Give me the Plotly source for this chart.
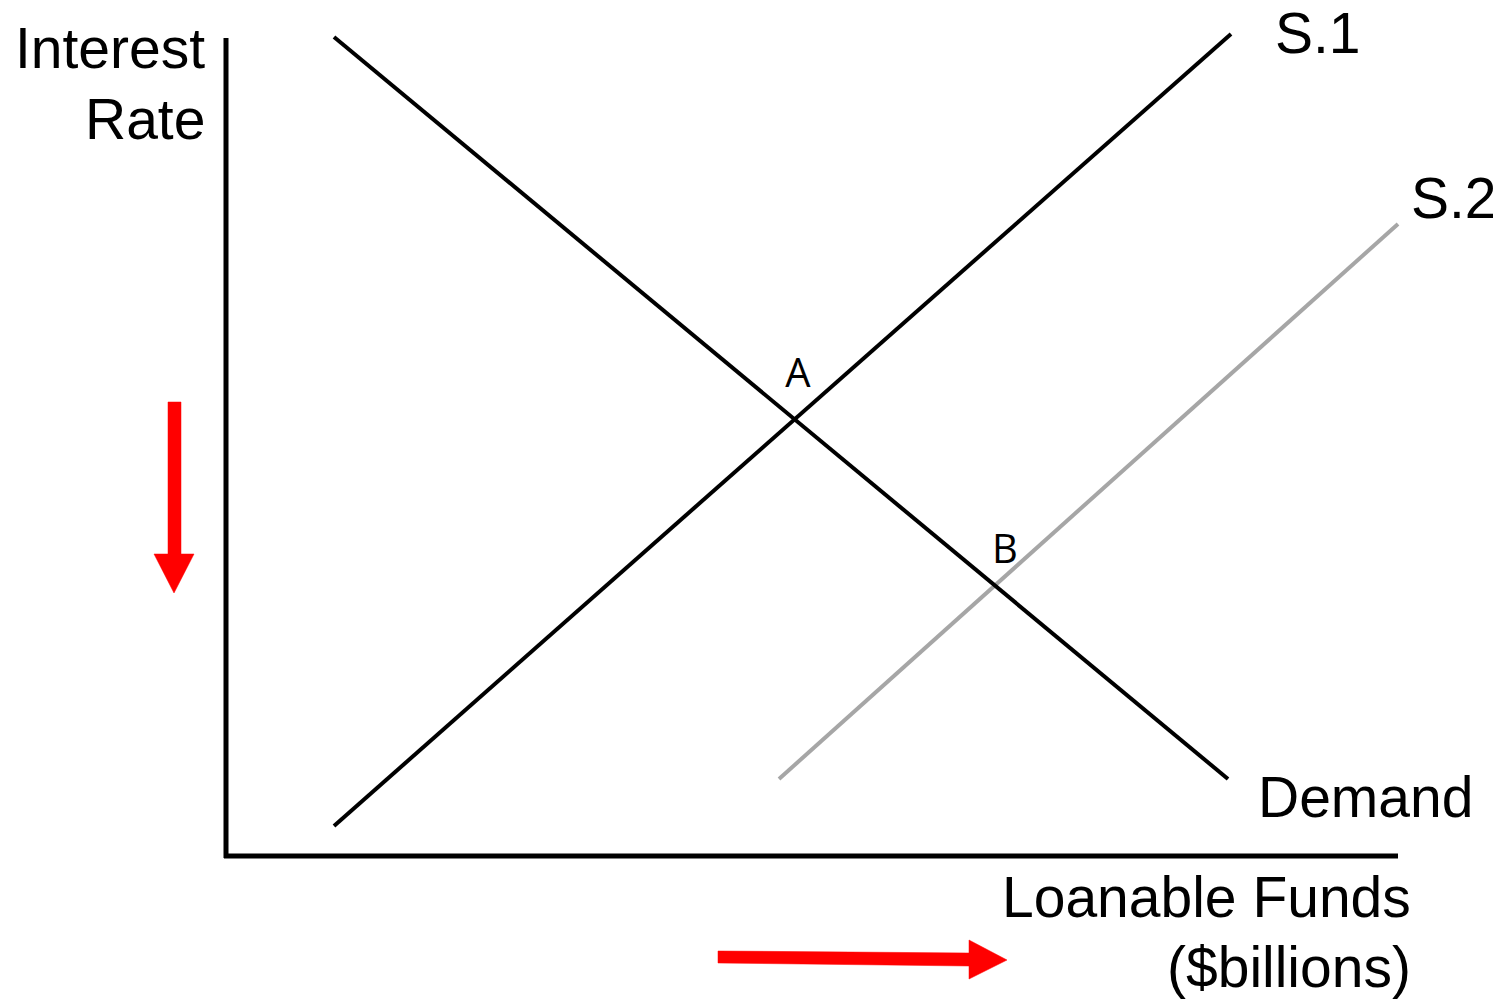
import plotly.graph_objects as go

# Chart units: origin at the axes corner, y upward (1 unit ~ 1 px)
demand_x = [106, 1000]
demand_y = [820, 78]
s1_x = [106, 1003]
s1_y = [31, 823]
s2_x = [551, 1170]
s2_y = [78, 633]

axis_v_x = [-2, -2]
axis_v_y = [-1, 819]
axis_h_x = [-4, 1170]
axis_h_y = [1, 1]

points = ["A", "B"]
points_x = [570, 777]
points_y = [480, 304]

curve_labels = ["S.1", "S.2", "Demand"]
curve_labels_x = [1045, 1181, 1028]
curve_labels_y = [824, 659, 60]

# red arrows (outline polygons)
arrow_down_x = [-60, -47, -47, -34, -54, -74, -60, -60]
arrow_down_y = [455, 455, 303, 303, 264, 303, 303, 455]
arrow_right_x = [490, 741, 741, 779, 741, 741, 490, 490]
arrow_right_y = [-94, -96, -83, -103, -122, -109, -106, -94]

PAGE_OFF = 8          # browser body margin
X0, Y0 = 228, 857     # page pixel position of origin
W, H = 1501 - PAGE_OFF, 1000 - PAGE_OFF

fig = go.Figure()

def line(x, y, color, width=4):
    fig.add_trace(go.Scatter(x=x, y=y, mode="lines",
                             line=dict(color=color, width=width),
                             hoverinfo="skip", showlegend=False))

line(axis_v_x, axis_v_y, "black", 5)
line(axis_h_x, axis_h_y, "black", 5)
line(s2_x, s2_y, "#a6a6a6", 4)
line(demand_x, demand_y, "black", 4)
line(s1_x, s1_y, "black", 4)

for ax, ay in [(arrow_down_x, arrow_down_y), (arrow_right_x, arrow_right_y)]:
    fig.add_trace(go.Scatter(x=ax, y=ay, mode="lines", fill="toself",
                             fillcolor="#ff0000", line=dict(color="#ff0000", width=0.5),
                             hoverinfo="skip", showlegend=False))

fig.add_trace(go.Scatter(x=points_x, y=points_y, mode="text", text=points,
                         textfont=dict(family="Open Sans", size=40, color="black"),
                         textposition="middle center", hoverinfo="skip", showlegend=False))

for t, x, y in zip(curve_labels, curve_labels_x, curve_labels_y):
    fig.add_annotation(x=x, y=y, text=t, showarrow=False, xanchor="left", yanchor="middle",
                       font=dict(family="Liberation Sans, Arial", size=57, color="black"))

texts = [("Interest", 207, 48), ("Rate", 207, 119),
         ("Loanable Funds", 1413, 897), ("($billions)", 1413, 967)]
for t, px, py in texts:
    fig.add_annotation(x=px - X0, y=Y0 - py, text=t, showarrow=False,
                       xanchor="right", yanchor="middle",
                       font=dict(family="Liberation Sans, Arial", size=57, color="black"))

fig.update_xaxes(range=[-(X0 - PAGE_OFF), 1501 - X0], visible=False, fixedrange=True)
fig.update_yaxes(range=[Y0 - 1000, Y0 - PAGE_OFF], visible=False, fixedrange=True)
fig.update_layout(width=W, height=H, margin=dict(l=0, r=0, t=0, b=0),
                  paper_bgcolor="white", plot_bgcolor="white")

fig.write_html("out.html")
